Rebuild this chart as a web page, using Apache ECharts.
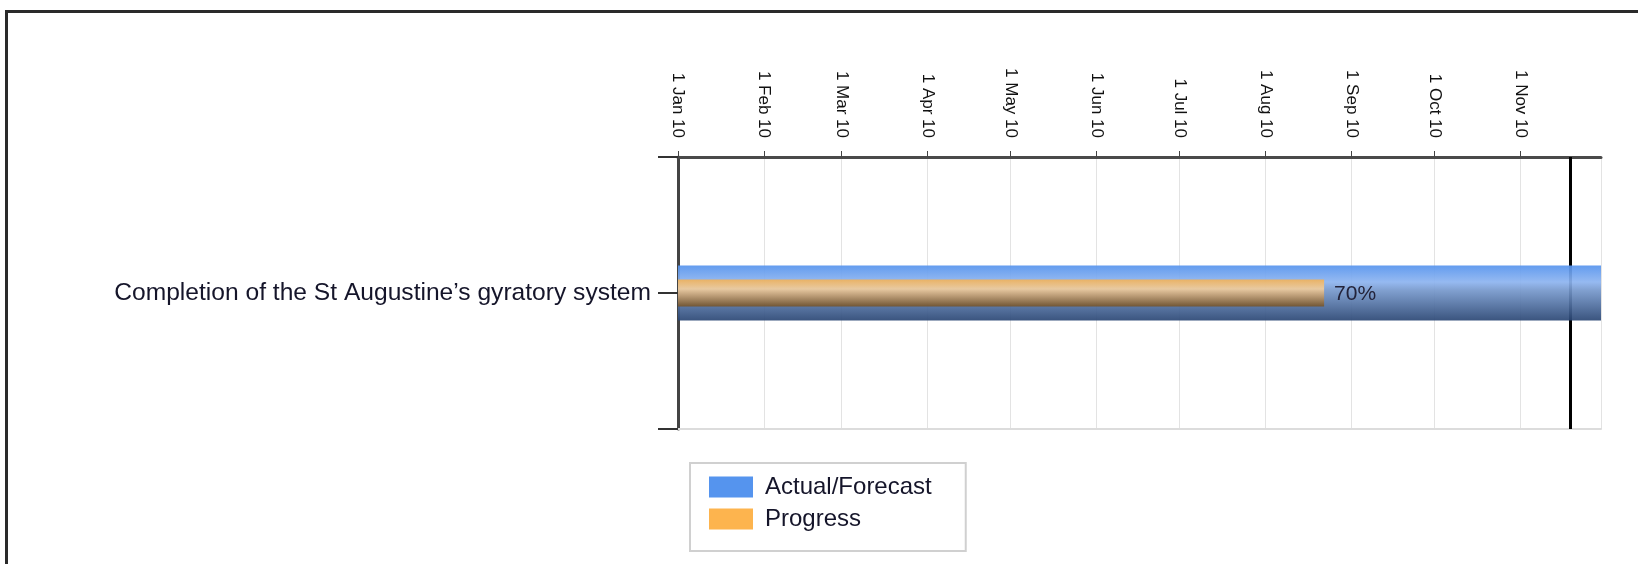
<!DOCTYPE html>
<html lang="en">
  <head>
    <meta charset="UTF-8" />
    <title>Gantt – St Augustine's gyratory</title>
    <script src="https://cdn.jsdelivr.net/npm/echarts@6/dist/echarts.min.js"></script>
    <style>
      * { margin: 0; padding: 0; box-sizing: border-box; }
      body { background: #fff; width: 1638px; height: 564px; overflow: hidden; position: relative; }
      #frame {
        position: absolute; left: 5px; top: 10px; right: -10px; bottom: -10px;
        border-top: 3px solid #2a2a2a; border-left: 3px solid #2a2a2a;
      }
      #chart { position: absolute; left: 0; top: 0; width: 1638px; height: 564px; }
    </style>
  </head>
  <body>
    <div id="frame"></div>
    <div id="chart"></div>

    <script>
      /* ---------- data ---------- */
      const tasks = ["Completion of the St Augustine\u2019s gyratory system"];
      const taskStart = ["2010-01-01"];
      const taskEnd = ["2010-11-30"];
      const taskProgress = [0.7];
      const todayMarker = "2010-11-19";
      const axisMin = "2010-01-01";
      const axisMax = "2010-11-30";
      const legendNames = ["Actual/Forecast", "Progress"];

      const FONT = "Liberation Sans";
      const t = (s) => new Date(s + "T00:00:00").getTime();

      const actualData = tasks.map((_, i) => [i, t(taskStart[i]), t(taskEnd[i])]);
      const progressData = tasks.map((_, i) => {
        const s = t(taskStart[i]);
        const e = t(taskEnd[i]);
        return [i, s, s + (e - s) * taskProgress[i], taskProgress[i]];
      });

      const blueFill = new echarts.graphic.LinearGradient(0, 0, 0, 1, [
        { offset: 0, color: "#5694ee" },
        { offset: 0.3, color: "#8db4f0" },
        { offset: 0.45, color: "#7698cc" },
        { offset: 1, color: "#2a4674" },
      ]);
      const orangeFill = new echarts.graphic.LinearGradient(0, 0, 0, 1, [
        { offset: 0, color: "#f0b158" },
        { offset: 0.35, color: "#f0cc9c" },
        { offset: 0.6, color: "#c29d70" },
        { offset: 1, color: "#73532b" },
      ]);

      function barItem(height, fill, withLabel) {
        return (params, api) => {
          const row = api.value(0);
          const p0 = api.coord([api.value(1), row]);
          const p1 = api.coord([api.value(2), row]);
          const cs = params.coordSys;
          const shape = echarts.graphic.clipRectByRect(
            { x: p0[0], y: p0[1] - height / 2, width: p1[0] - p0[0], height },
            { x: cs.x, y: cs.y, width: cs.width, height: cs.height }
          );
          if (!shape) return;
          const children = [
            { type: "rect", shape, style: { fill, opacity: 0.92 } },
          ];
          if (withLabel) {
            children.push({
              type: "text",
              style: {
                text: Math.round(api.value(3) * 100) + "%",
                x: p1[0] + 10,
                y: p0[1] + 1,
                verticalAlign: "middle",
                fill: "#23233a",
                font: "21px " + FONT,
              },
            });
          }
          return { type: "group", children };
        };
      }

      const chart = echarts.init(document.getElementById("chart"), null, { renderer: "canvas" });

      chart.setOption({
        animation: false,
        textStyle: { fontFamily: FONT },
        grid: { left: 678, right: 37, top: 157, bottom: 135 },
        legend: {
          orient: "vertical",
          left: 690,
          top: 463,
          padding: [12, 34, 20, 19],
          borderColor: "#d0d0d0",
          borderWidth: 2,
          itemWidth: 44,
          itemHeight: 21,
          itemGap: 8,
          textStyle: { fontSize: 24, color: "#15152a", fontFamily: FONT, padding: [0, 0, 0, 7] },
          data: [
            { name: legendNames[0], icon: "rect", itemStyle: { color: "#5594ee" } },
            { name: legendNames[1], icon: "rect", itemStyle: { color: "#fdb44e" } },
          ],
        },
        xAxis: [
          {
            type: "time",
            position: "top",
            min: t(axisMin),
            max: t(axisMax),
            splitNumber: 11,
            axisLine: { onZero: false, lineStyle: { color: "#4a4a4a", width: 3 } },
            axisTick: { show: true, length: 6, lineStyle: { color: "#444", width: 1 } },
            axisLabel: {
              rotate: 90,
              margin: 19,
              fontSize: 17,
              color: "#111",
              fontFamily: FONT,
              formatter: "{d} {MMM} {yy}",
              showMaxLabel: false,
            },
            splitLine: { show: true, lineStyle: { color: "#e3e3e3", width: 1 } },
          },
          {
            type: "time",
            position: "bottom",
            min: t(axisMin),
            max: t(axisMax),
            axisLine: { onZero: false, lineStyle: { color: "#dcdcdc", width: 2 } },
            axisTick: { show: false },
            axisLabel: { show: false },
            splitLine: { show: false },
          },
        ],
        yAxis: {
          type: "value",
          inverse: true,
          min: -0.5,
          max: tasks.length - 0.5,
          interval: 0.5,
          axisLine: { show: true, lineStyle: { color: "#444", width: 3 } },
          axisTick: { show: true, length: 20, lineStyle: { color: "#333", width: 2 } },
          axisLabel: {
            margin: 27,
            fontSize: 24.6,
            color: "#15152a",
            fontFamily: FONT,
            formatter: (v) => (Number.isInteger(v) && tasks[v] ? tasks[v] : ""),
          },
          splitLine: { show: false },
        },
        series: [
          {
            type: "line",
            data: [],
            silent: true,
            markLine: {
              z: 1,
              symbol: "none",
              silent: true,
              label: { show: false },
              lineStyle: { color: "#000", width: 3, type: "solid" },
              data: [{ xAxis: t(todayMarker) }],
            },
          },
          {
            name: legendNames[0],
            type: "custom",
            z: 2,
            itemStyle: { color: "#5594ee" },
            encode: { x: [1, 2], y: 0 },
            renderItem: barItem(55, blueFill, false),
            data: actualData,
          },
          {
            name: legendNames[1],
            type: "custom",
            z: 3,
            itemStyle: { color: "#fdb44e" },
            encode: { x: [1, 2], y: 0 },
            renderItem: barItem(27, orangeFill, true),
            data: progressData,
          },
        ],
      });
    </script>
  </body>
</html>
